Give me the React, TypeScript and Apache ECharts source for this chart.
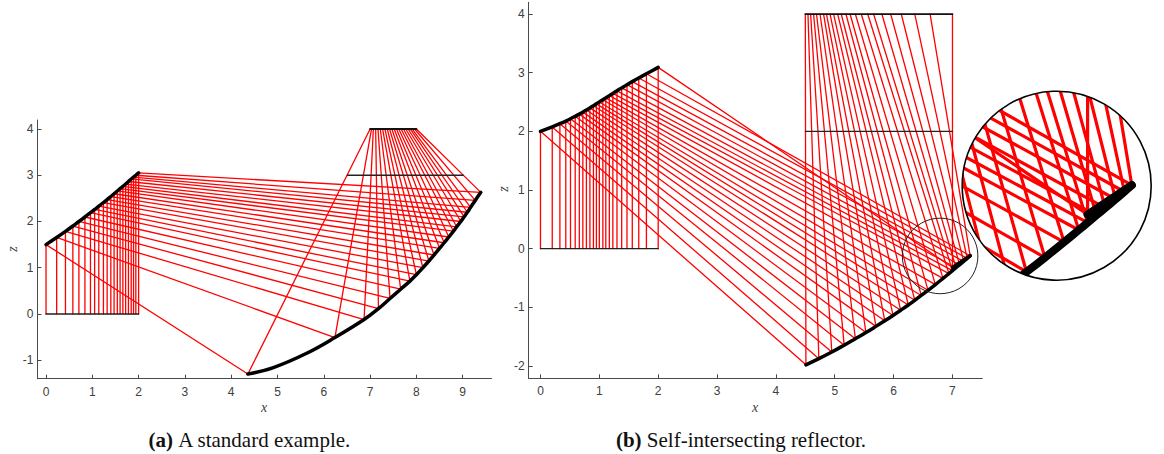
import React, { useEffect, useRef } from "react";
import * as echarts from "echarts";

// Panel (a)
const aSourceX = [0, 0.23, 0.42, 0.58, 0.71, 0.84, 0.96, 1.05, 1.14, 1.24, 1.32, 1.4, 1.47, 1.54, 1.6, 1.66, 1.72, 1.78, 1.84, 1.89, 1.94, 2];
const aFirstZ = [1.5, 1.655, 1.787, 1.902, 2.0, 2.097, 2.19, 2.26, 2.33, 2.41, 2.475, 2.54, 2.6, 2.66, 2.71, 2.76, 2.81, 2.865, 2.92, 2.96, 3.0, 3.05];
const aSecondX = [4.36, 6.24, 6.87, 7.18, 7.43, 7.66, 7.86, 8.0, 8.14, 8.27, 8.38, 8.5, 8.6, 8.7, 8.8, 8.87, 8.96, 9.03, 9.1, 9.17, 9.27, 9.39];
const aSecondZ = [-1.3, -0.51, -0.12, 0.115, 0.335, 0.535, 0.71, 0.85, 1.0, 1.145, 1.275, 1.42, 1.54, 1.665, 1.79, 1.885, 2.0, 2.1, 2.2, 2.305, 2.455, 2.63];
const aTargetX = [7, 7.03, 7.07, 7.12, 7.17, 7.22, 7.27, 7.32, 7.37, 7.42, 7.47, 7.52, 7.57, 7.62, 7.67, 7.72, 7.77, 7.82, 7.87, 7.91, 7.96, 8];
const aReflectorGapX = [4.91, 5.63];
const aReflectorGapZ = [-1.16, -0.85];
const aMidLine = [[6.51, 3], [9.01, 3]];
const aTargetZ = 4;

// Panel (b)
const bSourceX = [0, 0.2, 0.33, 0.43, 0.51, 0.59, 0.66, 0.72, 0.78, 0.84, 0.9, 0.95, 1, 1.06, 1.11, 1.17, 1.23, 1.3, 1.38, 1.47, 1.56, 1.67, 1.8, 2];
const bFirstZ = [2, 2.076, 2.13, 2.175, 2.214, 2.256, 2.294, 2.328, 2.363, 2.4, 2.437, 2.469, 2.501, 2.539, 2.571, 2.609, 2.647, 2.691, 2.741, 2.796, 2.848, 2.91, 2.982, 3.09];
const bSecondX = [4.51, 4.73, 4.95, 5.16, 5.35, 5.53, 5.7, 5.85, 5.99, 6.12, 6.25, 6.36, 6.47, 6.585, 6.71, 6.84, 6.94, 7.0, 7.06, 7.12, 7.19, 7.25, 7.3, 7.0];
const bSecondZ = [-1.98, -1.875, -1.762, -1.645, -1.535, -1.43, -1.325, -1.23, -1.138, -1.05, -0.96, -0.88, -0.798, -0.71, -0.612, -0.507, -0.425, -0.375, -0.325, -0.275, -0.216, -0.165, -0.12, -0.32];
const bTargetX = [4.5, 4.545, 4.59, 4.64, 4.69, 4.75, 4.81, 4.86, 4.92, 4.98, 5.05, 5.11, 5.19, 5.26, 5.35, 5.45, 5.56, 5.66, 5.8, 5.95, 6.13, 6.36, 6.62, 7];
const bMidLine = [[4.5, 2], [7, 2]];
const bTargetZ = 4;

const aXTicks = [0, 1, 2, 3, 4, 5, 6, 7, 8, 9];
const aZTicks = [-1, 0, 1, 2, 3, 4];
const bXTicks = [0, 1, 2, 3, 4, 5, 6, 7];
const bZTicks = [-2, -1, 0, 1, 2, 3, 4];
const captionA = "{b|(a)}{n| A standard example.}";
const captionB = "{b|(b)}{n| Self-intersecting reflector.}";

// Zoomed detail of panel (b)
const lensCentre = [6.79, -0.124];
const lensRadius = 0.642;

const rays = (sx: number[], fz: number[], rx: number[], rz: number[], tx: number[], tz: number) =>
  sx.map((x, i) => [[x, 0], [x, fz[i]], [rx[i], rz[i]], [tx[i], tz]]);

const axisStyle = { lineStyle: { color: "#4a4a4a", width: 1 } };

const xAxis = (gridIndex: number, min: number, max: number, ticks: number[]) => ({
  type: "value", gridIndex, min, max, axisLine: { onZero: false, ...axisStyle },
  splitLine: { show: false },
  axisTick: { inside: true, length: 4, customValues: ticks, ...axisStyle },
  axisLabel: { customValues: ticks, color: "#404040", fontSize: 12, fontFamily: "Liberation Sans", margin: 7, showMinLabel: true, showMaxLabel: true },
});
const yAxis = (gridIndex: number, min: number, max: number, ticks: number[]) => ({
  type: "value", gridIndex, min, max, axisLine: { onZero: false, ...axisStyle },
  splitLine: { show: false },
  axisTick: { inside: true, length: 4, customValues: ticks, ...axisStyle },
  axisLabel: { customValues: ticks, color: "#404040", fontSize: 12, fontFamily: "Liberation Sans", margin: 4, showMinLabel: true, showMaxLabel: true },
});

const line = (i: number, data: number[][], color: string, width: number, z = 2, extra: any = {}) => ({
  type: "line", xAxisIndex: i, yAxisIndex: i, data, symbol: "none", silent: true, clip: false, z,
  lineStyle: { color, width, join: "round", cap: "round" }, ...extra,
});

export default function App() {
  const ref = useRef<HTMLDivElement>(null);
  useEffect(() => {
    document.body.style.margin = "0";
    const chart = echarts.init(ref.current!, null, { renderer: "svg" });
    const aRays = rays(aSourceX, aFirstZ, aSecondX, aSecondZ, aTargetX, aTargetZ);
    const bRays = rays(bSourceX, bFirstZ, bSecondX, bSecondZ, bTargetX, bTargetZ);
    const aFirst = aSourceX.map((x, i) => [x, aFirstZ[i]]);
    const aSecond = aSecondX.map((x, i) => [x, aSecondZ[i]]);
    aSecond.splice(1, 0, ...aReflectorGapX.map((x, i) => [x, aReflectorGapZ[i]]));
    const bFirst = bSourceX.map((x, i) => [x, bFirstZ[i]]);
    const bAll = bSecondX.map((x, i) => [x, bSecondZ[i]]);
    const bSecond = bAll.slice(0, bAll.length - 1);
    const bFold = bAll.slice(bAll.length - 2);
    const bSource = [[bSourceX[0], 0], [bSourceX[bSourceX.length - 1], 0]];
    const aSource = [[aSourceX[0], 0], [aSourceX[aSourceX.length - 1], 0]];
    const bTarget = [[bTargetX[0], bTargetZ], [bTargetX[bTargetX.length - 1], bTargetZ]];
    const aTarget = [[aTargetX[0], aTargetZ], [aTargetX[aTargetX.length - 1], aTargetZ]];
    const smooth = { smooth: 0.4 };

    const series: any[] = [];
    aRays.forEach((r) => series.push(line(0, r, "#ff0000", 1.3)));
    bRays.forEach((r) => series.push(line(1, r, "#ff0000", 1.3)));
    series.push(line(0, aSource, "#222", 1.4, 3), line(0, aMidLine, "#222", 1.4, 3), line(0, aTarget, "#111", 1.8, 3));
    series.push(line(0, aFirst, "#000", 3.5, 4, smooth), line(0, aSecond, "#000", 3.5, 4, smooth));
    series.push(line(1, bSource, "#222", 1.4, 3), line(1, bMidLine, "#222", 1.4, 3), line(1, bTarget, "#111", 1.8, 3));
    series.push(line(1, bFirst, "#000", 3.5, 4, smooth), line(1, bSecond, "#000", 3.5, 4, smooth), line(1, bFold, "#000", 3.5, 4));

    // thin circle marking the zoomed region in panel (b)
    series.push({
      type: "custom", xAxisIndex: 1, yAxisIndex: 1, silent: true, z: 5, clip: false, data: [lensCentre],
      renderItem: (_: any, api: any) => {
        const c = api.coord(lensCentre);
        const r = api.size([lensRadius, 0])[0];
        return { type: "circle", shape: { cx: c[0], cy: c[1], r }, style: { fill: "none", stroke: "#222", lineWidth: 1 } };
      },
    });

    // zoomed detail
    series.push({
      type: "custom", xAxisIndex: 2, yAxisIndex: 2, silent: true, z: 6, clip: false, data: [lensCentre],
      renderItem: (_: any, api: any) => {
        const c = api.coord(lensCentre);
        const r = api.size([lensRadius, 0])[0];
        const pts = (list: number[][]) => list.map((p) => api.coord(p));
        const children: any[] = bRays.map((ray) => ({
          type: "polyline", shape: { points: pts(ray) },
          style: { fill: "none", stroke: "#ff0000", lineWidth: 3.2, lineJoin: "round" },
        }));
        [bSecond, bFold].forEach((part) => children.push({
          type: "polyline", shape: { points: pts(part), smooth: part === bSecond ? 0.4 : 0 },
          style: { fill: "none", stroke: "#000", lineWidth: 8, lineJoin: "round", lineCap: "round" },
        }));
        return {
          type: "group",
          children: [
            { type: "circle", shape: { cx: c[0], cy: c[1], r }, style: { fill: "#fff", stroke: "none" } },
            { type: "group", children, clipPath: { type: "circle", shape: { cx: c[0], cy: c[1], r } } },
            { type: "circle", shape: { cx: c[0], cy: c[1], r }, style: { fill: "none", stroke: "#000", lineWidth: 1.6 } },
          ],
        };
      },
    });

    const axisName = (text: string, x: number, y: number, rotation = 0) => ({
      type: "text", x, y, rotation,
      style: { text, fill: "#404040", fontFamily: "Liberation Serif", fontStyle: "italic", fontSize: 14, align: "center", verticalAlign: "middle" },
    });
    const caption = (text: string, x: number) => ({
      type: "text", x, y: 440,
      style: {
        text, fill: "#111", fontFamily: "Liberation Serif", fontSize: 21, align: "center", verticalAlign: "middle",
        rich: {
          b: { fontFamily: "Liberation Serif", fontWeight: "bold", fontSize: 21, fill: "#111" },
          n: { fontFamily: "Liberation Serif", fontSize: 21, fill: "#111" },
        },
      },
    });

    chart.setOption({
      animation: false,
      backgroundColor: "#fff",
      grid: [
        { left: 37.5, top: 120, width: 454, height: 258.7 },
        { left: 528.7, top: 2.3, width: 453.6, height: 376 },
        { left: 962.2, top: 91.2, width: 189, height: 189, show: false },
      ],
      xAxis: [
        xAxis(0, -0.184, 9.622, aXTicks),
        xAxis(1, -0.2, 7.507, bXTicks),
        { type: "value", gridIndex: 2, min: lensCentre[0] - lensRadius, max: lensCentre[0] + lensRadius, show: false },
      ],
      yAxis: [
        yAxis(0, -1.4, 4.195, aZTicks),
        yAxis(1, -2.21, 4.2, bZTicks),
        { type: "value", gridIndex: 2, min: lensCentre[1] - lensRadius, max: lensCentre[1] + lensRadius, show: false },
      ],
      series,
      graphic: [
        axisName("x", 264, 407),
        axisName("x", 755, 407),
        axisName("z", 12, 249, Math.PI / 2),
        axisName("z", 503, 189, Math.PI / 2),
        caption(captionA, 250),
        caption(captionB, 741),
      ],
    });
    return () => chart.dispose();
  }, []);
  return <div ref={ref} style={{ width: 1164, height: 454, position: "absolute", left: 0, top: 0 }} />;
}
